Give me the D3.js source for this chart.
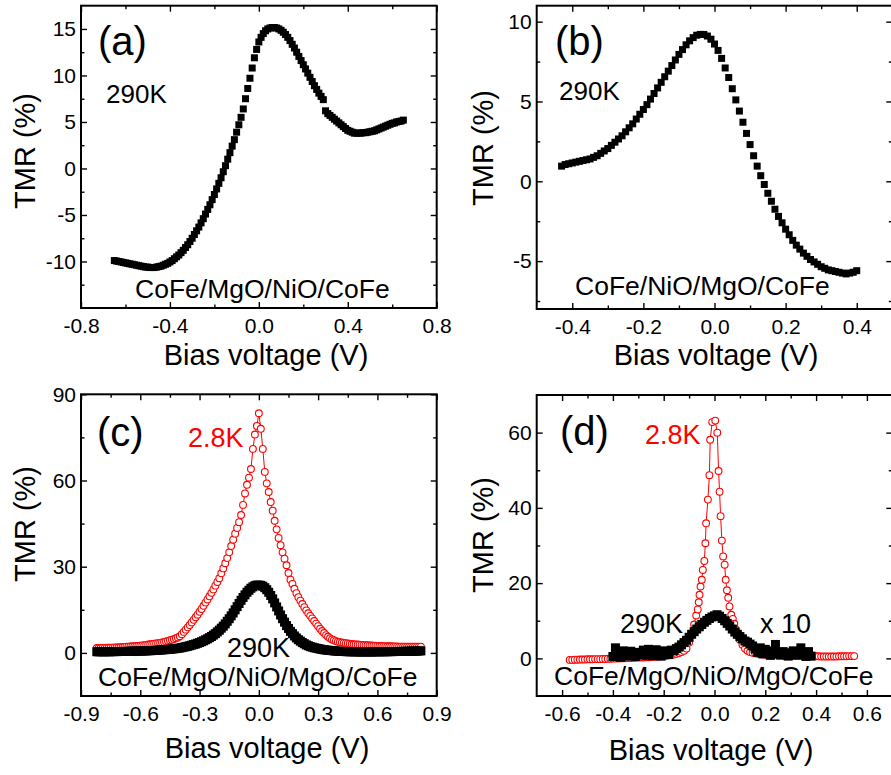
<!DOCTYPE html>
<html>
<head>
<meta charset="utf-8">
<script src="https://cdn.jsdelivr.net/npm/d3@7"></script>
<style>
  html, body { margin: 0; padding: 0; background: #fff; }
  svg { display: block; }
</style>
</head>
<body>
<svg id="fig" width="891" height="775"></svg>
<script>
// ---------------- data ----------------
// Each bias sweep is stored as its first voltage, its step (V) and the TMR (%) read at each step.

// (a) CoFe/MgO/NiO/CoFe at 290 K
const sweepA = { start: -0.65, step: 0.01 };
const tmrA = [
  -9.9, -9.95, -10.0, -10.05, -10.1, -10.15, -10.2, -10.25, -10.3, -10.35,
  -10.4, -10.45, -10.5, -10.55, -10.6, -10.6, -10.65, -10.65, -10.65, -10.6,
  -10.55, -10.5, -10.4, -10.3, -10.2, -10.05, -9.9, -9.7, -9.5, -9.3,
  -9.05, -8.8, -8.5, -8.2, -7.85, -7.5, -7.1, -6.7, -6.3, -5.85,
  -5.4, -4.9, -4.4, -3.9, -3.35, -2.8, -2.2, -1.6, -1.0, -0.35,
  0.3, 1.0, 1.7, 2.4, 3.1, 3.9, 4.7, 5.5, 6.4, 7.5,
  8.6, 9.7, 10.8, 11.9, 12.8, 13.6, 14.1, 14.5, 14.8, 15.0,
  15.1, 15.15, 15.15, 15.1, 15.0, 14.85, 14.65, 14.4, 14.1, 13.75,
  13.35, 12.95, 12.5, 12.05, 11.6, 11.15, 10.7, 10.25, 9.8, 9.35,
  8.9, 8.5, 8.1, 7.75, 7.4, 6.2, 5.9, 5.7, 5.5, 5.3,
  5.1, 4.9, 4.7, 4.5, 4.3, 4.1, 4.0, 3.9, 3.8, 3.8,
  3.8, 3.8, 3.85, 3.85, 3.9, 3.95, 4.0, 4.05, 4.15, 4.25,
  4.35, 4.45, 4.55, 4.65, 4.75, 4.85, 4.9, 5.0, 5.05, 5.1, 5.2
];

// (b) CoFe/NiO/MgO/CoFe at 290 K
const sweepB = { start: -0.43, step: 0.01 };
const tmrB = [
  0.95, 1.05, 1.1, 1.15, 1.2, 1.25, 1.3, 1.35, 1.4, 1.5,
  1.6, 1.75, 1.9, 2.05, 2.25, 2.45, 2.65, 2.85, 3.1, 3.35,
  3.6, 3.9, 4.2, 4.5, 4.8, 5.15, 5.5, 5.85, 6.2, 6.55,
  6.9, 7.25, 7.6, 7.95, 8.25, 8.55, 8.8, 9.0, 9.15, 9.2,
  9.2, 9.1, 8.9, 8.6, 8.2, 7.7, 7.1, 6.5, 5.8, 5.1,
  4.4, 3.7, 3.0, 2.3, 1.6, 0.95, 0.35, -0.2, -0.75, -1.25,
  -1.75, -2.2, -2.6, -3.0, -3.35, -3.7, -4.0, -4.25, -4.5, -4.7,
  -4.9, -5.05, -5.2, -5.35, -5.45, -5.55, -5.6, -5.65, -5.7, -5.75,
  -5.8, -5.75, -5.7, -5.6
];

// (c) CoFe/MgO/NiO/MgO/CoFe at 290 K
const sweepC290 = { start: -0.82, step: 0.01 };
const tmrC290 = [
  0.4, 0.4, 0.4, 0.4, 0.4, 0.4, 0.4, 0.42, 0.45, 0.45,
  0.45, 0.48, 0.5, 0.5, 0.5, 0.52, 0.55, 0.58, 0.6, 0.6,
  0.6, 0.62, 0.65, 0.68, 0.7, 0.72, 0.75, 0.78, 0.8, 0.85,
  0.9, 0.95, 1.0, 1.05, 1.1, 1.15, 1.2, 1.28, 1.35, 1.42,
  1.5, 1.6, 1.7, 1.85, 2.0, 2.15, 2.3, 2.5, 2.7, 2.9,
  3.1, 3.35, 3.6, 3.9, 4.2, 4.55, 4.9, 5.3, 5.7, 6.2,
  6.7, 7.3, 7.9, 8.6, 9.3, 10.1, 11.0, 11.9, 12.9, 13.9,
  15.0, 16.1, 17.2, 18.3, 19.3, 20.2, 21.1, 21.8, 22.5, 23.0,
  23.4, 23.6, 23.6, 23.5, 23.2, 22.7, 22.0, 21.1, 20.0, 18.8,
  17.4, 16.0, 14.6, 13.2, 11.9, 10.7, 9.5, 8.5, 7.5, 6.7,
  5.9, 5.2, 4.6, 4.1, 3.6, 3.2, 2.8, 2.5, 2.2, 2.0,
  1.8, 1.65, 1.5, 1.35, 1.2, 1.1, 1.0, 0.92, 0.85, 0.78,
  0.7, 0.65, 0.6, 0.55, 0.5, 0.48, 0.45, 0.42, 0.4, 0.4,
  0.4, 0.38, 0.35, 0.35, 0.35, 0.35, 0.35, 0.35, 0.35, 0.35,
  0.35, 0.38, 0.4, 0.4, 0.4, 0.4, 0.4, 0.42, 0.45, 0.45,
  0.45, 0.48, 0.5, 0.5, 0.5, 0.52, 0.55, 0.58, 0.6, 0.6,
  0.6, 0.62, 0.65, 0.68, 0.7
];

// (c) CoFe/MgO/NiO/MgO/CoFe at 2.8 K
const sweepC3 = { start: -0.82, step: 0.01 };
const tmrC3 = [
  1.7, 1.7, 1.7, 1.75, 1.75, 1.8, 1.8, 1.85, 1.85, 1.9,
  1.9, 1.95, 2.0, 2.05, 2.1, 2.15, 2.2, 2.25, 2.3, 2.35,
  2.4, 2.45, 2.5, 2.6, 2.7, 2.8, 2.9, 3.0, 3.1, 3.2,
  3.3, 3.4, 3.5, 3.65, 3.8, 4.0, 4.2, 4.4, 4.6, 4.8,
  5.1, 5.4, 5.8, 6.5, 7.3, 8.1, 8.9, 9.7, 10.6, 11.5,
  12.4, 13.3, 14.3, 15.3, 16.4, 17.5, 18.6, 19.7, 20.9, 22.1,
  23.4, 24.7, 26.0, 27.7, 29.4, 31.2, 33.0, 35.0, 37.2, 39.4,
  41.5, 43.5, 45.5, 48.0, 51.5, 55.5, 58.5, 61.0, 64.0, 71.0,
  76.0, 79.0, 83.4,
  78.0, 71.0, 63.0, 59.0, 56.0, 52.5, 49.5, 46.0, 43.0, 40.0,
  37.5, 35.0, 32.8, 30.5, 27.8, 25.5, 24.0, 22.3, 20.8, 19.4,
  18.2, 17.0, 15.9, 14.8, 13.8, 12.9, 12.0, 11.1, 10.2, 9.3,
  8.4, 7.6, 6.9, 6.2, 5.6, 5.1, 4.7, 4.4, 4.1, 3.9,
  3.75, 3.6, 3.5, 3.4, 3.3, 3.2, 3.1, 3.0, 2.95, 2.9,
  2.85, 2.8, 2.75, 2.7, 2.65, 2.6, 2.55, 2.5, 2.5, 2.45,
  2.4, 2.4, 2.35, 2.35, 2.3, 2.3, 2.3, 2.25, 2.25, 2.25,
  2.2, 2.2, 2.2, 2.2, 2.2, 2.2, 2.2, 2.2, 2.2, 2.2,
  2.2, 2.2
];

// (d) CoFe/MgO/NiO/MgO/CoFe at 290 K (plotted x 10)
const sweepD290 = { start: -0.40, step: 0.01 };
const tmrD290 = [
  0.5, 2.8, 1.2, 0.3, 2.0, 1.0, 0.6, 1.9, 1.2, 0.5,
  1.6, 1.0, 2.2, 0.8, 2.4, 1.3, 0.7, 2.3, 1.1, 0.6,
  2.0, 1.5, 1.0, 2.2, 2.0, 2.6, 3.0, 3.6, 4.2, 4.8,
  5.6, 6.4, 7.1, 7.8, 8.4, 9.0, 9.6, 10.1, 10.6, 11.0,
  11.3, 11.6, 11.2, 10.6, 10.0, 9.3, 8.6, 7.8, 7.0, 6.4,
  5.8, 5.2, 4.6, 4.3, 3.8, 3.3, 2.5, 1.6, 2.8, 1.2,
  2.4, 1.5, 0.8, 2.0, 3.7, 1.3, 0.9, 1.8, 1.1, 0.6,
  1.5, 2.0, 0.9, 1.4, 2.8, 1.0, 0.5, 1.8, 0.6
];

// (d) CoFe/MgO/NiO/MgO/CoFe at 2.8 K: two evenly stepped tails and the sharp zero-bias peak
const sweepD3Low = { start: -0.57, step: 0.01 };
const tmrD3Low = [
  -0.4, -0.4, -0.35, -0.35, -0.3, -0.3, -0.3, -0.25, -0.25, -0.25,
  -0.2, -0.2, -0.2, -0.15, -0.15, -0.1, -0.1, -0.05, -0.05, 0.0,
  0.0, 0.05, 0.05, 0.1, 0.1, 0.15, 0.15, 0.2, 0.2, 0.25,
  0.3, 0.3, 0.35, 0.4, 0.45, 0.5, 0.55, 0.6, 0.7, 0.8,
  0.9, 1.0, 1.2, 1.4, 1.7, 2.0
];
const biasD3Peak = [
  -0.11, -0.10, -0.09, -0.08, -0.072, -0.066, -0.062, -0.059, -0.055, -0.050,
  -0.046, -0.040, -0.036, -0.033, -0.026, -0.020, -0.017, -0.009, 0.003, 0.011,
  0.016, 0.020, 0.024, 0.029, 0.034, 0.040, 0.044, 0.049, 0.054, 0.059,
  0.066, 0.072, 0.078, 0.085, 0.092, 0.099, 0.11, 0.12
];
const tmrD3Peak = [
  2.6, 4.2, 6.4, 9.0, 11.4, 13.0, 14.9, 16.9, 19.1, 20.9,
  23.5, 25.9, 30.6, 35.9, 42.2, 48.7, 58.1, 62.8, 63.2, 60.0,
  49.8, 44.3, 37.8, 31.3, 27.1, 24.9, 20.9, 18.1, 16.1, 13.8,
  11.6, 10.5, 9.2, 7.6, 6.2, 5.0, 3.6, 2.6
];
const sweepD3High = { start: 0.13, step: 0.01 };
const tmrD3High = [
  2.0, 1.7, 1.5, 1.35, 1.2, 1.1, 1.0, 0.95, 0.9, 0.85,
  0.8, 0.8, 0.75, 0.75, 0.7, 0.7, 0.7, 0.65, 0.65, 0.65,
  0.6, 0.6, 0.6, 0.6, 0.55, 0.55, 0.55, 0.55, 0.55, 0.5,
  0.5, 0.5, 0.5, 0.5, 0.5, 0.5, 0.55, 0.55, 0.55, 0.55,
  0.6, 0.6, 0.6
];

// Axis ticks
const ticksA = { xMajor: [-0.8, -0.4, 0, 0.4, 0.8], xMinor: [-0.6, -0.2, 0.2, 0.6],
                 yMajor: [-10, -5, 0, 5, 10, 15], yMinor: [-12.5, -7.5, -2.5, 2.5, 7.5, 12.5] };
const ticksB = { xMajor: [-0.4, -0.2, 0, 0.2, 0.4], xMinor: [-0.3, -0.1, 0.1, 0.3],
                 yMajor: [-5, 0, 5, 10], yMinor: [-7.5, -2.5, 2.5, 7.5] };
const ticksC = { xMajor: [-0.9, -0.6, -0.3, 0, 0.3, 0.6, 0.9], xMinor: [-0.75, -0.45, -0.15, 0.15, 0.45, 0.75],
                 yMajor: [0, 30, 60, 90], yMinor: [15, 45, 75] };
const ticksD = { xMajor: [-0.6, -0.4, -0.2, 0, 0.2, 0.4, 0.6], xMinor: [-0.5, -0.3, -0.1, 0.1, 0.3, 0.5],
                 yMajor: [0, 20, 40, 60], yMinor: [10, 30, 50] };

// ---------------- helpers ----------------
const FONT = '"Liberation Sans", Arial, Helvetica, sans-serif';
const RED = "#ff0000";
const svg = d3.select("#fig");

function sweep(s, values) {
  return values.map((v, i) => ({ v: +(s.start + i * s.step).toFixed(4), t: v }));
}
function pairs(bias, values) {
  return values.map((t, i) => ({ v: bias[i], t }));
}

function panel(o) {
  const g = svg.append("g");
  const x = d3.scaleLinear().domain(o.xDomain).range([o.left, o.right]);
  const y = d3.scaleLinear().domain(o.yDomain).range([o.bottom, o.top]);

  function addAxis(axis, tx, ty, showLabels) {
    const a = g.append("g").attr("transform", `translate(${tx},${ty})`).call(axis);
    a.select(".domain").remove();
    a.selectAll(".tick line").attr("stroke", "#000").attr("stroke-width", 1.4);
    if (showLabels) {
      a.selectAll(".tick text").attr("fill", "#000")
        .style("font-size", "21px").style("font-family", FONT);
    } else {
      a.selectAll(".tick text").remove();
    }
  }
  const fx = d => d.toFixed(1);
  const fy = d => String(d);
  const T = o.ticks;
  // bottom / top
  addAxis(d3.axisBottom(x).tickValues(T.xMajor).tickSize(-6).tickPadding(10).tickFormat(fx), 0, o.bottom, true);
  addAxis(d3.axisBottom(x).tickValues(T.xMinor).tickSize(-3.5).tickFormat(""), 0, o.bottom, false);
  addAxis(d3.axisTop(x).tickValues(T.xMajor).tickSize(-6).tickFormat(""), 0, o.top, false);
  addAxis(d3.axisTop(x).tickValues(T.xMinor).tickSize(-3.5).tickFormat(""), 0, o.top, false);
  // left / right
  addAxis(d3.axisLeft(y).tickValues(T.yMajor).tickSize(-6).tickPadding(5).tickFormat(fy), o.left, 0, true);
  addAxis(d3.axisLeft(y).tickValues(T.yMinor).tickSize(-3.5).tickFormat(""), o.left, 0, false);
  addAxis(d3.axisRight(y).tickValues(T.yMajor).tickSize(-6).tickFormat(""), o.right, 0, false);
  addAxis(d3.axisRight(y).tickValues(T.yMinor).tickSize(-3.5).tickFormat(""), o.right, 0, false);

  // frame
  g.append("rect")
    .attr("x", o.left).attr("y", o.top)
    .attr("width", o.right - o.left).attr("height", o.bottom - o.top)
    .attr("fill", "none").attr("stroke", "#000").attr("stroke-width", 2);

  // axis titles
  g.append("text")
    .attr("x", o.xTitle[0]).attr("y", o.xTitle[1])
    .attr("text-anchor", "middle")
    .style("font-family", FONT).style("font-size", "29px")
    .text("Bias voltage (V)");
  g.append("text")
    .attr("transform", `translate(${o.yTitle[0]},${o.yTitle[1]}) rotate(-90)`)
    .attr("text-anchor", "middle")
    .style("font-family", FONT).style("font-size", "29px")
    .text("TMR (%)");

  return { g, x, y };
}

function drawCircles(p, data, r) {
  p.g.append("path")
    .datum(data)
    .attr("fill", "none").attr("stroke", RED).attr("stroke-width", 1)
    .attr("d", d3.line().x(d => p.x(d.v)).y(d => p.y(d.t)));
  p.g.append("g").selectAll("circle").data(data).join("circle")
    .attr("cx", d => p.x(d.v)).attr("cy", d => p.y(d.t)).attr("r", r)
    .attr("fill", "#fff").attr("stroke", RED).attr("stroke-width", 1.1);
}
function drawSquares(p, data, s) {
  p.g.append("g").selectAll("rect").data(data).join("rect")
    .attr("x", d => p.x(d.v) - s / 2).attr("y", d => p.y(d.t) - s / 2)
    .attr("width", s).attr("height", s).attr("fill", "#000");
}
function label(p, txt, x, y, size, color) {
  p.g.append("text").attr("x", x).attr("y", y)
    .style("font-family", FONT).style("font-size", size + "px")
    .attr("fill", color || "#000").text(txt);
}

// ---------------- panels ----------------
const pA = panel({ left: 81, right: 436.7, top: 5.7, bottom: 308,
  xDomain: [-0.8, 0.8], yDomain: [-15, 17.5], ticks: ticksA,
  xTitle: [266, 365], yTitle: [35, 151] });
drawSquares(pA, sweep(sweepA, tmrA), 7);
label(pA, "(a)", 98, 55, 40);
label(pA, "290K", 106, 103, 26);
label(pA, "CoFe/MgO/NiO/CoFe", 135, 297.5, 26.5);

const pB = panel({ left: 536.7, right: 892.3, top: 5.7, bottom: 309,
  xDomain: [-0.5, 0.5], yDomain: [-8, 11], ticks: ticksB,
  xTitle: [716, 365], yTitle: [493, 148] });
drawSquares(pB, sweep(sweepB, tmrB), 7);
label(pB, "(b)", 555, 55, 40);
label(pB, "290K", 559, 100, 26);
label(pB, "CoFe/NiO/MgO/CoFe", 575, 295, 26.5);

const pC = panel({ left: 81, right: 436.7, top: 394.3, bottom: 696,
  xDomain: [-0.9, 0.9], yDomain: [-15, 90], ticks: ticksC,
  xTitle: [267, 758], yTitle: [35, 524] });
drawCircles(pC, sweep(sweepC3, tmrC3), 3.4);
drawSquares(pC, sweep(sweepC290, tmrC290), 9);
label(pC, "(c)", 97, 446, 40);
label(pC, "2.8K", 188, 446.5, 27, RED);
label(pC, "290K", 227, 656.5, 27);
label(pC, "CoFe/MgO/NiO/MgO/CoFe", 98, 686, 26.5);

const pD = panel({ left: 536.7, right: 892.3, top: 395, bottom: 696,
  xDomain: [-0.7, 0.7], yDomain: [-10, 70], ticks: ticksD,
  xTitle: [711, 760], yTitle: [493, 535] });
const redD = sweep(sweepD3Low, tmrD3Low)
  .concat(pairs(biasD3Peak, tmrD3Peak))
  .concat(sweep(sweepD3High, tmrD3High));
drawCircles(pD, redD, 3.4);
drawSquares(pD, sweep(sweepD290, tmrD290), 9);
label(pD, "(d)", 560, 445, 40);
label(pD, "2.8K", 645, 444, 27, RED);
label(pD, "290K", 620, 633, 27);
label(pD, "x 10", 760, 633, 27);
label(pD, "CoFe/MgO/NiO/MgO/CoFe", 554, 685, 26.5);
</script>
</body>
</html>
